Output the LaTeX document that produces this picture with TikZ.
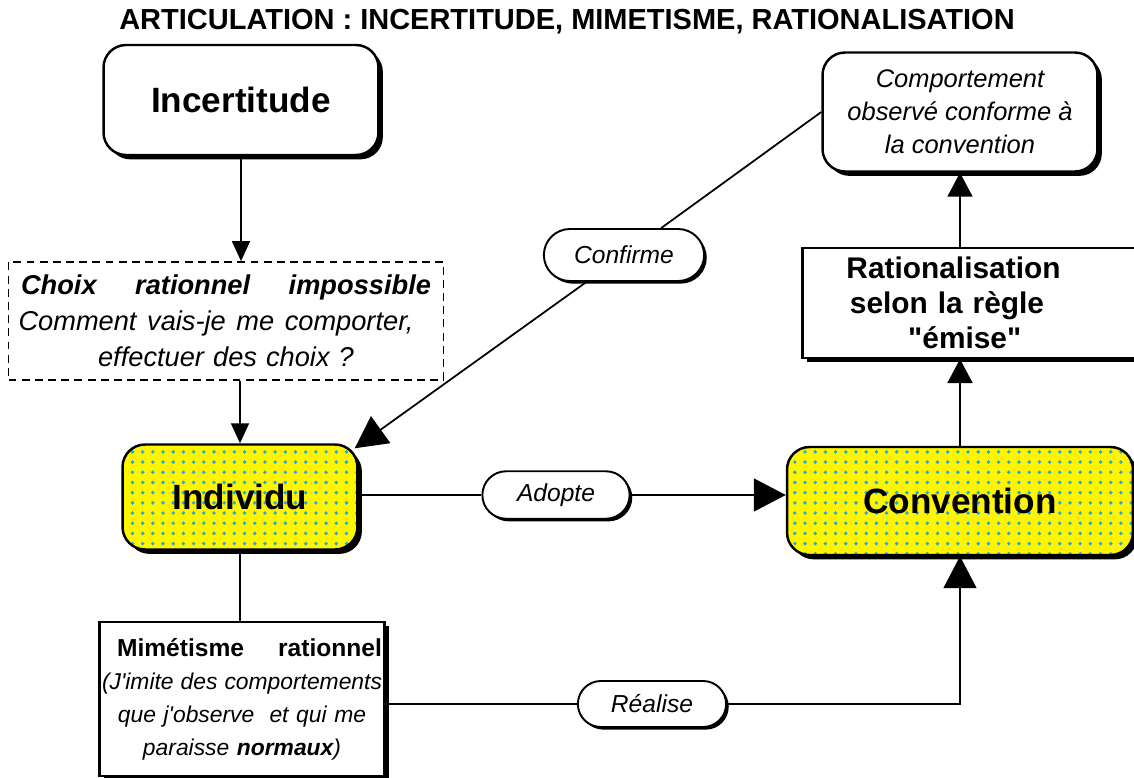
\documentclass[tikz,border=0pt]{standalone}
\usepackage{fontspec}
\setmainfont{Liberation Sans}[Ligatures=TeXOff]
\usepackage{tikz}
\usetikzlibrary{arrows.meta,shadows,patterns.meta,shapes.misc}
\definecolor{convyellow}{RGB}{255,245,0}
\definecolor{convdots}{RGB}{40,170,210}
\tikzset{
  titletext/.style={font=\bfseries\fontsize{16.5}{20}\selectfont},
  boxshadow/.style={drop shadow={opacity=1, fill=black, shadow xshift=2.5pt,
    shadow yshift=-2.5pt}},
  roundbox/.style={draw, line width=1.4pt, rounded corners=0.45cm, fill=white,
    align=center, boxshadow},
  keybox/.style={draw, line width=1.4pt, rounded corners=0.45cm, align=center,
    font=\bfseries\fontsize{20}{24}\selectfont, boxshadow,
    preaction={fill=convyellow}, pattern={Dots[distance=5.8pt, radius=1.1pt]},
    pattern color=convdots},
  plainbox/.style={draw, line width=1.2pt, fill=white, align=center, boxshadow},
  dashbox/.style={draw, line width=1pt, dash pattern=on 4.5pt off 3pt,
    align=center},
  verb/.style={draw, line width=1.1pt, rounded rectangle, fill=white,
    font=\itshape\fontsize{14}{17}\selectfont,
    drop shadow={opacity=1, fill=black, shadow xshift=1.5pt, shadow yshift=-1.5pt},
    minimum width=3.2cm, minimum height=0.95cm},
  link/.style={line width=1pt},
  smallarrow/.style={line width=1pt, -{Triangle[length=4mm, width=3.6mm]}},
  midarrow/.style={line width=1pt, -{Triangle[length=4.8mm, width=5mm]}},
  bigarrow/.style={line width=1pt, -{Triangle[length=6.4mm, width=6.6mm]}},
}
\begin{document}
\begin{tikzpicture}[x=0.02cm, y=-0.02cm]
  \useasboundingbox (0,0) rectangle (1134,778);

  \node[titletext] (title) at (567,22)
    {ARTICULATION : INCERTITUDE, MIMETISME, RATIONALISATION};

  \node[roundbox, minimum width=5.5cm, minimum height=2.2cm,
    font=\bfseries\fontsize{20}{24}\selectfont] (inc) at (241,100) {Incertitude};
  \node[dashbox, minimum width=8.7cm, minimum height=2.36cm, text width=8.3cm,
    font=\itshape\fontsize{15.5}{20.4}\selectfont] (choix) at (226,321)
    {\makebox[8.2cm][s]{\bfseries Choix\hfill rationnel\hfill impossible}\\
     \makebox[8.3cm][s]{Comment\hfill vais-je\hfill me\hfill comporter,\hspace{0.4cm}}\\
     effectuer des choix ?};

  \node[keybox, minimum width=4.7cm, minimum height=2.1cm] (ind) at (240,497)
    {Individu};
  \node[keybox, minimum width=6.92cm, minimum height=2.16cm] (conv) at (960,501)
    {Convention};

  \node[plainbox, minimum width=5.7cm, minimum height=3.08cm, text width=5.6cm,
    inner xsep=1pt, font=\itshape\fontsize{13}{18.8}\selectfont] (mim) at (242,699)
    {\hspace*{0.3cm}\makebox[5.3cm][s]{\upshape\bfseries\fontsize{14}{18.8}\selectfont
       Mimétisme\hfill rationnel}\\
     \makebox[5.6cm][s]{(J'imite\hfill des\hfill comportements}\\
     que j'observe \ et qui me\\
     paraisse \textbf{normaux})};

  \node[plainbox, minimum width=6.74cm, minimum height=2.2cm, text width=6.2cm,
    font=\bfseries\fontsize{17}{19.8}\selectfont] (rat) at (971,303)
    {\hspace*{-0.7cm}Rationalisation\\\hspace*{-0.96cm}selon la règle\\
     \hspace*{-0.25cm}"émise"};
  \node[roundbox, minimum width=5.5cm, minimum height=2.38cm,
    font=\itshape\fontsize{14.5}{18.7}\selectfont] (comp) at (960,112)
    {Comportement\\observé conforme à\\la convention};

  \node[verb, minimum width=3.44cm, minimum height=1.04cm] (confirme) at (624,255)
    {Confirme};
  \node[verb, minimum width=3.18cm] (adopte) at (556,495) {Adopte};
  \node[verb, minimum height=0.92cm] (realise) at (652,704) {Réalise};

  \draw[smallarrow] (inc.south) -- (inc.south |- choix.north);
  \draw[smallarrow] (ind.north |- choix.south) -- (ind.north);
  \draw[link] (ind.east |- adopte.west) -- (adopte.west);
  \draw[bigarrow] (adopte.east) -- (adopte.east -| conv.west);
  \draw[midarrow] (conv.north) -- (conv.north |- rat.south);
  \draw[midarrow] (comp.south |- rat.north) -- (comp.south);
  \draw[link] (comp.west) -- (confirme);
  \draw[bigarrow] (confirme) -- ([shift={(-4,5)}]ind.north east);
  \draw[link] (ind.south) -- (ind.south |- mim.north);
  \draw[link] (mim.east |- realise.west) -- (realise.west);
  \draw[bigarrow] (realise.east) -| (conv.south);
\end{tikzpicture}
\end{document}
